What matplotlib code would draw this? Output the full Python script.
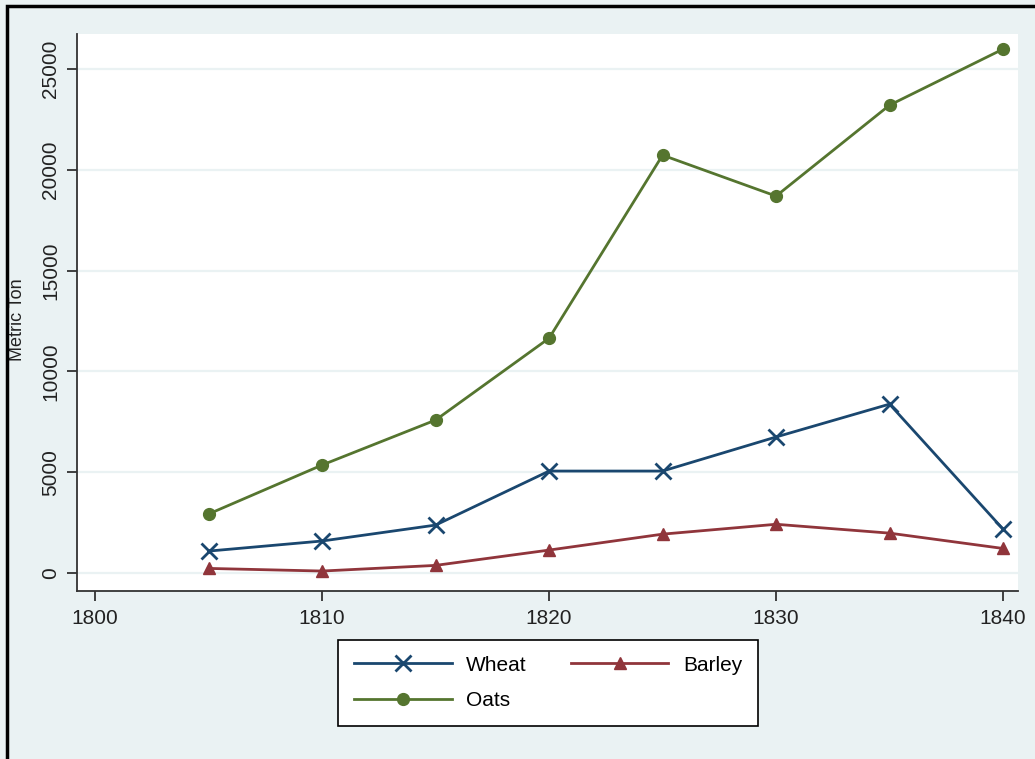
import matplotlib
matplotlib.use("Agg")
import matplotlib.pyplot as plt
from matplotlib.patches import Rectangle

years = [1805, 1810, 1815, 1820, 1825, 1830, 1835, 1840]
wheat = [1090, 1590, 2380, 5060, 5060, 6750, 8380, 2180]
barley = [230, 100, 380, 1140, 1930, 2420, 1980, 1220]
oats = [2930, 5360, 7590, 11650, 20730, 18700, 23210, 25990]

x_ticks = [1800, 1810, 1820, 1830, 1840]
y_ticks = [0, 5000, 10000, 15000, 20000, 25000]

plt.rcParams['font.family'] = ['Liberation Sans', 'DejaVu Sans']
bg = '#eaf2f3'
fig = plt.figure(figsize=(10.35, 7.59), dpi=100, facecolor=bg)
fig.patches.append(Rectangle((7/1035, -0.05), 1.1, 1 - 6/759 + 0.05,
                             transform=fig.transFigure, fill=False,
                             edgecolor='black', linewidth=2.5, zorder=10))
ax = fig.add_axes([77/1035, 1 - 591/759, (1018 - 77)/1035, (591 - 34)/759])
ax.set_facecolor('white')

for v in y_ticks:
    ax.axhline(v, color=bg, linewidth=1.6, zorder=1)

h_w, = ax.plot(years, wheat, color='#1a476f', marker='x', markersize=11, markeredgewidth=2,
               linewidth=2, label='Wheat', zorder=3)
h_b, = ax.plot(years, barley, color='#90353b', marker='^', markersize=9,
               linewidth=2, label='Barley', zorder=3)
h_o, = ax.plot(years, oats, color='#55752f', marker='o', markersize=8.5,
               linewidth=2, label='Oats', zorder=3)

ax.set_xlim(1799.2, 1840.66)
ax.set_ylim(-890, 26740)
ax.set_xticks(x_ticks)
ax.set_yticks(y_ticks)
ax.tick_params(axis='both', direction='out', length=7, width=1.2, labelsize=15, colors='#222222')
ax.tick_params(axis='x', pad=6)
ax.tick_params(axis='y', pad=5)
for lab in ax.get_yticklabels():
    lab.set_rotation(90)
    lab.set_va('center')
for s in ['top', 'right']:
    ax.spines[s].set_visible(False)
for s in ['left', 'bottom']:
    ax.spines[s].set_color('#333333')
    ax.spines[s].set_linewidth(1.3)

fig.text(18/1035, 1 - 320/759, 'Metric Ton', rotation=90, va='center', ha='center',
         fontsize=13, color='#222222')

leg = fig.legend([h_w, h_o, h_b], ['Wheat', 'Oats', 'Barley'],
                 loc='center', bbox_to_anchor=(548/1035, 1 - 683/759), ncol=2,
                 fontsize=15, frameon=True, fancybox=False, edgecolor='black',
                 facecolor='white', framealpha=1,
                 handlelength=4.7, columnspacing=2.1, handletextpad=0.7,
                 borderpad=0.75, labelspacing=0.8)
leg.get_frame().set_linewidth(1.2)

fig.savefig('out.png', dpi=100, facecolor=bg)
